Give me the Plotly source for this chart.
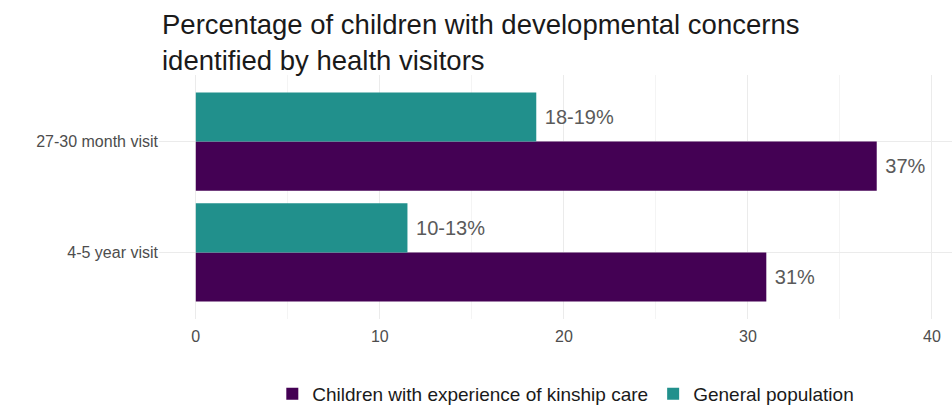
import plotly.graph_objects as go

categories = ["4-5 year visit", "27-30 month visit"]
kinship_values = [31, 37]
kinship_labels = ["31%", "37%"]
general_values = [11.5, 18.5]
general_labels = ["10-13%", "18-19%"]
series_names = ["Children with experience of kinship care", "General population"]
x_ticks = [0, 10, 20, 30, 40]
title_text = "Percentage of children with developmental concerns<br>identified by health visitors"

PURPLE = "#440154"
TEAL = "#21908C"
GRID = "#EBEBEB"
TXT = "#4D4D4D"
FONT = "Liberation Sans, Arial, sans-serif"

fig = go.Figure()
fig.add_trace(go.Bar(
    y=categories, x=kinship_values, orientation="h", name=series_names[0],
    marker=dict(color=PURPLE, line=dict(width=0)),
    text=kinship_labels, texttemplate="\u00a0%{text}", textposition="outside",
    cliponaxis=False,
    textfont=dict(size=20, color="#5A5A5A", family=FONT),
))
fig.add_trace(go.Bar(
    y=categories, x=general_values, orientation="h", name=series_names[1],
    marker=dict(color=TEAL, line=dict(width=0)),
    text=general_labels, texttemplate="\u00a0%{text}", textposition="outside",
    cliponaxis=False,
    textfont=dict(size=20, color="#5A5A5A", family=FONT),
))

fig.add_annotation(
    text=title_text, xref="paper", yref="paper", x=0, y=1 + (75 - 7) / 244,
    xanchor="left", yanchor="top", align="left", showarrow=False, xshift=1,
    font=dict(size=27.5, color="#1A1A1A", family=FONT),
)

fig.update_layout(
    width=952, height=405,
    barmode="group", bargap=0.114, bargroupgap=0,
    plot_bgcolor="white", paper_bgcolor="white",
    margin=dict(l=159, r=0, t=75, b=86),
    font=dict(family=FONT, color=TXT),
    legend=dict(
        orientation="h", x=0.513, xanchor="center", xref="paper",
        y=(405 - 394) / 405, yanchor="middle", yref="container",
        traceorder="normal", font=dict(size=19, color="#1A1A1A", family=FONT),
        itemwidth=30,
    ),
    showlegend=True,
)
fig.update_xaxes(
    range=[-2, 41.09], tickvals=x_ticks, showgrid=True, gridcolor=GRID, gridwidth=1,
    zeroline=False, showline=False, automargin=False,
    ticks="outside", ticklen=3, tickcolor="rgba(0,0,0,0)",
    tickfont=dict(size=16, color=TXT),
    minor=dict(dtick=5, tick0=0, showgrid=True, gridcolor="#F4F4F4", gridwidth=1),
)
fig.update_yaxes(
    categoryorder="array", categoryarray=categories,
    range=[-0.6, 1.6], showgrid=True, gridcolor=GRID, gridwidth=1,
    zeroline=False, showline=False, automargin=False,
    ticks="", tickfont=dict(size=16, color=TXT),
)

fig.write_html("out.html")
